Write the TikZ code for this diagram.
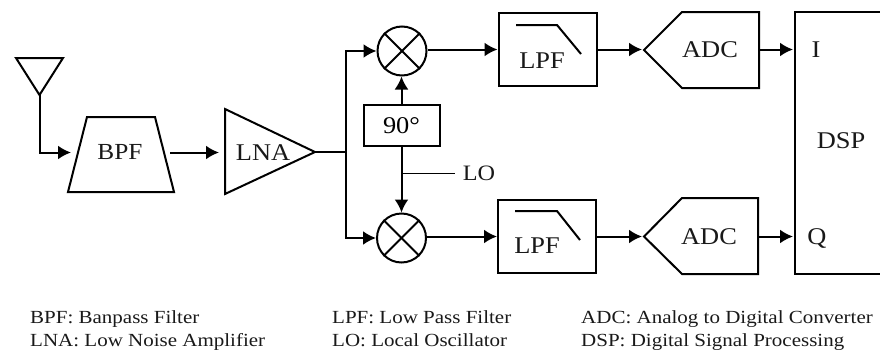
\documentclass[tikz,border=0pt]{standalone}
\usepackage{fontspec}
\setmainfont{Liberation Serif}
\newfontfamily\widefont[FakeStretch=1.1]{Liberation Serif}
\newfontfamily\legfont[FakeStretch=1.135]{Liberation Serif}
\usetikzlibrary{arrows.meta}
\tikzset{
  x=1pt,y=-1pt,
  block/.style={draw=black,line width=2pt,line join=miter,inner sep=0pt},
  wire/.style={draw=black,line width=2pt},
  flow/.style={wire,-{Latex[length=13pt,width=14pt]}},
  thin wire/.style={draw=black,line width=1pt},
  lab/.style={font=\widefont\fontsize{24}{26}\selectfont,inner sep=0pt,anchor=center,text=black!90},
  legend/.style={font=\legfont\fontsize{18.5}{22.5}\selectfont,inner sep=0pt,anchor=base west,align=left,text=black!90},
  mixer/.style={circle,draw=black,line width=2pt,minimum size=49pt,inner sep=0pt}
}
\begin{document}
\begin{tikzpicture}
\useasboundingbox (0,0) rectangle (880,356);
\draw[block] (16,58) -- (63,58) -- (39.5,95) -- cycle;
\coordinate (antfoot) at (39.5,95);
\draw[block] (87,117) -- (155,117) -- (174,192) -- (68,192) -- cycle;
\node[lab,font=\widefont\fontsize{23}{26}\selectfont] (bpf) at (120,152) {BPF};
\draw[block] (225,109) -- (225,194) -- (315,152) -- cycle;
\node[lab] (lna) at (263,153) {LNA};
\coordinate (lnaout) at (315,152);
\coordinate (split) at (346,152);
\coordinate (bpfin) at (71,152.5);
\coordinate (bpfout) at (170,152.5);
\coordinate (lnain) at (219,152.5);
\node[mixer] (m1) at (402,51) {};
\node[mixer] (m2) at (401.5,238) {};
\foreach \m in {m1,m2}{
  \draw[wire] (\m.45) -- (\m.225);
  \draw[wire] (\m.135) -- (\m.315);
}
\node[block,minimum width=76pt,minimum height=41pt,font=\widefont\fontsize{24}{26}\selectfont] (ph) at (401.5,125.5) {90°};
\coordinate (lotap) at (401.5,173);
\coordinate (loend) at (455,173);
\node[lab,font=\widefont\fontsize{22}{26}\selectfont] (lo) at (479,173) {LO};
\node[block,minimum width=98pt,minimum height=73pt] (f1) at (547.5,49.5) {};
\node[block,minimum width=98pt,minimum height=73pt] (f2) at (547,236.5) {};
\draw[wire] (516,25) -- (557,25) -- (581,54);
\draw[wire] (515,211) -- (557,211) -- (580,240);
\node[lab] (f1t) at (542,61) {LPF};
\node[lab] (f2t) at (537,246) {LPF};
\draw[block] (644,50) -- (682,12) -- (759,12) -- (759,88) -- (682,88) -- cycle;
\draw[block] (644,236.5) -- (682,198) -- (758,198) -- (758,274) -- (682,274) -- cycle;
\node[lab] (a1) at (710,50) {ADC};
\node[lab] (a2) at (709,237) {ADC};
\coordinate (a1in) at (642,49.5);
\coordinate (a2in) at (642,236.5);
\coordinate (a1out) at (759,49.5);
\coordinate (a2out) at (758,236.5);
\draw[block] (883,12) -- (795,12) -- (795,274) -- (883,274);
\coordinate (dspi) at (793,49.5);
\coordinate (dspq) at (793,236.5);
\node[lab] (i) at (816,50) {I};
\node[lab] (q) at (817,238) {Q};
\node[lab] (dsp) at (841,141) {DSP};
\draw[flow] (antfoot) |- (bpfin);
\draw[flow] (bpfout) -- (lnain);
\draw[wire] (lnaout) -- (split);
\draw[flow] (split) |- (m1.west);
\draw[flow] (split) |- (m2.west);
\draw[flow] (ph.north) -- (m1.south -| ph.north);
\draw[flow] (ph.south) -- (m2.north);
\draw[thin wire] (lotap) -- (loend);
\draw[flow] (m1.east |- f1.west) -- (f1.west);
\draw[flow] (m2.east |- f2.west) -- (f2.west);
\draw[flow] (f1.east) -- (a1in);
\draw[flow] (f2.east) -- (a2in);
\draw[flow] (a1out) -- (dspi);
\draw[flow] (a2out) -- (dspq);
\node[legend] (l1) at (30,346) {BPF: Banpass Filter\\LNA: Low Noise Amplifier};
\node[legend] (l2) at (332,346) {LPF: Low Pass Filter\\LO: Local Oscillator};
\node[legend] (l3) at (581,346) {ADC: Analog to Digital Converter\\DSP: Digital Signal Processing};
\end{tikzpicture}
\end{document}
